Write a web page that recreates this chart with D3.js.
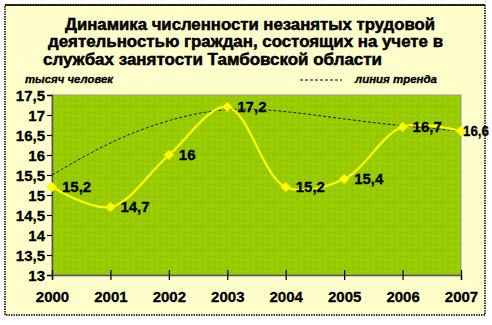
<!DOCTYPE html>
<html>
<head>
<meta charset="utf-8">
<script src="https://d3js.org/d3.v7.min.js"></script>
<style>
  body { margin: 0; background: #fff; }
  text { font-family: Arial, "Liberation Sans", sans-serif; }
</style>
</head>
<body>
<script>
// chart data
var years = ["2000", "2001", "2002", "2003", "2004", "2005", "2006", "2007"];
var values = [15.2, 14.7, 16, 17.2, 15.2, 15.4, 16.7, 16.6];
var trend = [15.5, 16.35, 16.9, 17.2, 17.1, 16.9, 16.72, 16.6];
var yTicks = [13, 13.5, 14, 14.5, 15, 15.5, 16, 16.5, 17, 17.5];
var titleLines = [
  "Динамика численности незанятых трудовой",
  "деятельностью граждан, состоящих на учете в",
  "службах занятости Тамбовской области"
];

var width = 492, height = 325;
var fmt = function(v) { return String(v).replace(".", ","); };

var svg = d3.select("body").append("svg")
    .attr("width", width)
    .attr("height", height);

var defs = svg.append("defs");
var bgPat = defs.append("pattern")
    .attr("id", "bgdots").attr("width", 4).attr("height", 4)
    .attr("patternUnits", "userSpaceOnUse");
bgPat.append("rect").attr("width", 4).attr("height", 4).attr("fill", "#ffffcc");
bgPat.append("rect").attr("x", 1).attr("y", 1).attr("width", 1).attr("height", 1).attr("fill", "#f2f2c0");

var plotPat = defs.append("pattern")
    .attr("id", "plotdots").attr("width", 6).attr("height", 6)
    .attr("patternUnits", "userSpaceOnUse");
plotPat.append("rect").attr("width", 6).attr("height", 6).attr("fill", "#99cc00");
plotPat.append("rect").attr("x", 1).attr("y", 1).attr("width", 1).attr("height", 1).attr("fill", "#b8dc30");
plotPat.append("rect").attr("x", 4).attr("y", 4).attr("width", 1).attr("height", 1).attr("fill", "#7fae00");

// outer frame
svg.append("rect")
    .attr("x", 5).attr("y", 5).attr("width", 480).attr("height", 310)
    .attr("fill", "url(#bgdots)")
    .attr("stroke", "#000").attr("stroke-width", 1.5)
    .attr("stroke-dasharray", "1.5,1");
svg.append("line")
    .attr("x1", 5).attr("x2", 485).attr("y1", 5).attr("y2", 5)
    .attr("stroke", "#000").attr("stroke-width", 1.5);

// title
var titleX = [65, 48, 43], titleW = [370, 395, 339], titleY = [30, 47, 65];
svg.selectAll(".title").data(titleLines).enter().append("text")
    .attr("class", "title")
    .attr("x", function(d, i) { return titleX[i]; })
    .attr("y", function(d, i) { return titleY[i]; })
    .attr("textLength", function(d, i) { return titleW[i]; })
    .attr("lengthAdjust", "spacingAndGlyphs")
    .style("font-size", "16px")
    .style("font-weight", "bold")
    .style("fill", "#000")
    .style("stroke", "#000").style("stroke-width", 0.5)
    .text(function(d) { return d; });

// plot area
var margin = {left: 52, right: 461, top: 95, bottom: 275};
var x = d3.scalePoint().domain(years).range([margin.left, margin.right]);
var y = d3.scaleLinear().domain([13, 17.5]).range([margin.bottom, margin.top]);

svg.append("rect")
    .attr("x", margin.left).attr("y", margin.top)
    .attr("width", margin.right - margin.left)
    .attr("height", margin.bottom - margin.top)
    .attr("fill", "url(#plotdots)")
    .attr("stroke", "#9a9a9a").attr("stroke-width", 1);

// unit label and legend
svg.append("text")
    .attr("x", 25).attr("y", 83)
    .style("font-size", "11px").style("font-weight", "bold").style("font-style", "italic")
    .style("stroke", "#000").style("stroke-width", 0.3)
    .attr("textLength", 88).attr("lengthAdjust", "spacingAndGlyphs")
    .text("тысяч человек");
svg.append("line")
    .attr("x1", 300).attr("x2", 342).attr("y1", 80).attr("y2", 80)
    .attr("stroke", "#000").attr("stroke-width", 1).attr("stroke-dasharray", "3,2");
svg.append("text")
    .attr("x", 355).attr("y", 83)
    .style("font-size", "11px").style("font-weight", "bold").style("font-style", "italic")
    .style("stroke", "#000").style("stroke-width", 0.3)
    .attr("textLength", 82).attr("lengthAdjust", "spacingAndGlyphs")
    .text("линия  тренда");

// axes
var yAxis = svg.append("g")
    .attr("transform", "translate(" + margin.left + ",0)")
    .call(d3.axisLeft(y).tickValues(yTicks).tickSize(5).tickPadding(2).tickFormat(fmt));
var xAxis = svg.append("g")
    .attr("transform", "translate(0," + margin.bottom + ")")
    .call(d3.axisBottom(x).tickSize(5).tickPadding(8));
xAxis.selectAll(".tick line").attr("y1", -5);
[yAxis, xAxis].forEach(function(g) {
  g.select(".domain").attr("stroke", "#555").attr("stroke-width", 1.5);
  g.selectAll(".tick line").attr("stroke", "#000").attr("stroke-width", 1.2);
  g.selectAll("text")
      .style("font-family", "Arial, 'Liberation Sans', sans-serif")
      .style("font-size", "15px").style("font-weight", "bold")
      .style("fill", "#000").style("stroke", "#000").style("stroke-width", 0.3);
});
xAxis.selectAll("text").attr("dy", "0.9em");
yAxis.selectAll("text").attr("dy", "0.36em");

// trend line
var rows = years.map(function(d, i) { return {year: d, v: values[i], t: trend[i]}; });
svg.append("path")
    .datum(rows)
    .attr("fill", "none")
    .attr("stroke", "#1a1a1a").attr("stroke-width", 1)
    .attr("stroke-dasharray", "3,2")
    .attr("d", d3.line()
        .x(function(d) { return x(d.year); })
        .y(function(d) { return y(d.t); })
        .curve(d3.curveBasis));

// data line
svg.append("path")
    .datum(rows)
    .attr("fill", "none")
    .attr("stroke", "#ffff00").attr("stroke-width", 2.2)
    .attr("d", d3.line()
        .x(function(d) { return x(d.year); })
        .y(function(d) { return y(d.v); })
        .curve(d3.curveCatmullRom.alpha(0.5)));

// markers
svg.selectAll(".marker").data(rows).enter().append("path")
    .attr("class", "marker")
    .attr("transform", function(d) { return "translate(" + x(d.year) + "," + y(d.v) + ")"; })
    .attr("d", "M0,-5L5,0L0,5L-5,0Z")
    .attr("fill", "#ffff00")
    .attr("stroke", "#e0e000").attr("stroke-width", 0.5);

// data labels (the last one sits tight against its marker, as in the original)
var last = years.length - 1;
svg.selectAll(".dlabel").data(rows).enter().append("text")
    .attr("class", "dlabel")
    .attr("x", function(d, i) { return x(d.year) + (i === last ? 2 : 10); })
    .attr("y", function(d) { return y(d.v); })
    .attr("dy", "0.36em")
    .each(function(d, i) {
      if (i === last) d3.select(this).attr("textLength", 26).attr("lengthAdjust", "spacingAndGlyphs");
    })
    .style("font-size", "15px").style("font-weight", "bold")
    .style("fill", "#000").style("stroke", "#000").style("stroke-width", 0.3)
    .text(function(d) { return fmt(d.v); });
</script>
</body>
</html>
